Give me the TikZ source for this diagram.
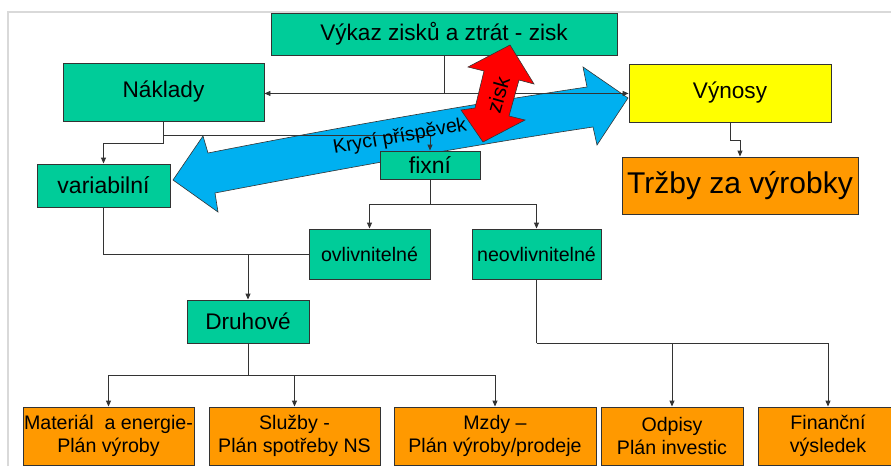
\documentclass[tikz,border=0pt]{standalone}
\usepackage{fontspec}
\setmainfont{Liberation Sans}
\usetikzlibrary{arrows.meta}

\definecolor{boxgreen}{HTML}{00CC99}
\definecolor{boxyellow}{HTML}{FFFF00}
\definecolor{boxorange}{HTML}{FF9900}
\definecolor{arrowblue}{HTML}{00B0F0}
\definecolor{arrowred}{HTML}{FF0000}
\definecolor{framegray}{HTML}{D9D9D9}
\definecolor{linegray}{HTML}{333333}

\tikzset{
  box/.style={draw=linegray, line width=0.9pt, inner sep=0pt, align=center, text=black},
  gbox/.style={box, fill=boxgreen},
  ybox/.style={box, fill=boxyellow},
  obox/.style={box, fill=boxorange},
  conn/.style={draw=linegray, line width=0.9pt},
  arr/.style={conn, -{Triangle[length=6pt,width=5pt]}},
  bigarrow/.style={draw=linegray, line width=0.6pt, line join=miter},
  fbig/.style={font=\fontsize{22.6}{26}\selectfont},
  fmid/.style={font=\fontsize{19.6}{23}\selectfont},
}

\begin{document}
\begin{tikzpicture}[x=1pt, y=-1pt]
\useasboundingbox (0,0) rectangle (891,466);
\fill[white] (0,0) rectangle (891,466);

% slide frame
\draw[framegray, line width=2pt] (8,466) -- (8,12) -- (891,12);

% contribution margin double arrow
\draw[bigarrow, fill=arrowblue]
  (173,180) -- (203,136) -- (208,153)
  .. controls (330,129) and (460,106) .. (587,87)
  -- (583,67) -- (628,98) -- (597,145) -- (593,127)
  .. controls (460,147) and (330,171) .. (215,193)
  -- (218,212) -- cycle;

% boxes
\node[gbox, fbig, minimum width=346, minimum height=42] (vykaz) at (444,34) {Výkaz zisků a ztrát - zisk};
\node[gbox, fbig, minimum width=201, minimum height=58] (naklady) at (163.5,92) {Náklady};
\node[ybox, fbig, minimum width=202, minimum height=58] (vynosy) at (730,93) {Výnosy};
\node[obox, font=\fontsize{30}{34}\selectfont, minimum width=236, minimum height=57] (trzby) at (740,185.5) {Tržby za výrobky};
\node[gbox, font=\fontsize{23}{26}\selectfont, minimum width=133, minimum height=43] (variabilni) at (103.5,185.5) {variabilní};
\node[gbox, font=\fontsize{23}{26}\selectfont, minimum width=100, minimum height=28] (fixni) at (430,165) {fixní};
\node[gbox, fmid, minimum width=121, minimum height=50] (ovl) at (369.5,254) {ovlivnitelné};
\node[gbox, fmid, minimum width=129, minimum height=50] (neovl) at (536.5,254) {neovlivnitelné};
\node[gbox, fbig, minimum width=122, minimum height=43] (druhove) at (248,321.5) {Druhové};

\node[obox, fmid, minimum width=171, minimum height=58] (material) at (108.5,436) {Materiál\ \ a energie-\\Plán výroby};
\node[obox, fmid, minimum width=171, minimum height=58] (sluzby) at (294.5,436) {Služby -\\Plán spotřeby NS};
\node[obox, fmid, minimum width=202, minimum height=58] (mzdy) at (495,436) {Mzdy –\\Plán výroby/prodeje};
\node[obox, fmid, minimum width=142, minimum height=58] (odpisy) at (672,436) {Odpisy\\Plán investic};
\node[obox, fmid, minimum width=140, minimum height=58] (financni) at (828,436) {Finanční\\výsledek};

% connectors
\draw[conn] (vykaz.south) -- ++(0,38) coordinate (vj);
\draw[arr] (vj) -- (vj -| naklady.east);
\draw[arr] (vj) -- (vj -| vynosy.west);

\draw[conn] (naklady.south) -- ++(0,14) coordinate (nj);
\draw[arr] (nj) -- ++(0,8) -| (variabilni.north);
\draw[arr] (nj) -| (fixni.north);

\draw[conn] (fixni.south) -- ++(0,25) coordinate (fj);
\draw[arr] (fj) -| (ovl.north);
\draw[arr] (fj) -| (neovl.north);

\draw[conn] (variabilni.south) |- (ovl.west);
\draw[arr] (ovl.west -| druhove.north) -- (druhove.north);

\draw[conn] (druhove.south) -- ++(0,32) coordinate (dj);
\draw[arr] (dj) -| (material.north);
\draw[arr] (dj) -| (sluzby.north);
\draw[arr] (dj) -| (mzdy.north);

\draw[conn] (neovl.south) -- ++(0,64) coordinate (oj);
\draw[arr] (oj) -| (odpisy.north);
\draw[arr] (oj) -| (financni.north);

\draw[arr] (vynosy.south) -- ++(0,18) -| (trzby.north);

% label on the blue arrow
\node[rotate=10, fmid, inner sep=0pt] (kp) at (400,137) {Krycí příspěvek};

% profit double arrow
\draw[bigarrow, fill=arrowred]
  (510,45) -- (534,84) -- (519,80) -- (509,116) -- (525,120)
  -- (483,142) -- (461,110) -- (475,108) -- (484,71) -- (468,67) -- cycle;
\node[rotate=74, font=\fontsize{21}{24}\selectfont, inner sep=0pt] (zisk) at (498,95) {zisk};
\end{tikzpicture}
\end{document}
